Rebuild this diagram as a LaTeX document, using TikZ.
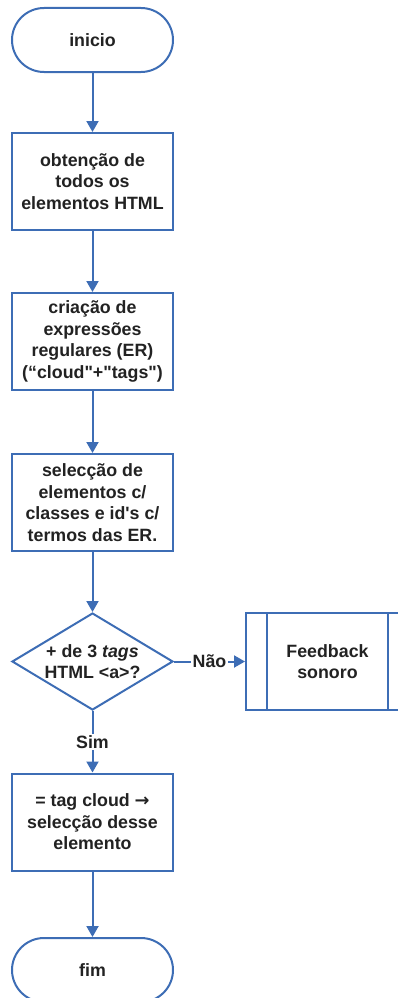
\documentclass[tikz,border=0pt]{standalone}
\usepackage{fontspec}
\setmainfont{Liberation Sans}[Ligatures=TeXOff]
\newfontfamily\arrowfont{DejaVu Sans}
\usetikzlibrary{shapes.misc,shapes.geometric,arrows.meta}
\definecolor{flowblue}{HTML}{3D6DB5}
\definecolor{flowtext}{HTML}{222222}
\tikzset{
  labelfont/.style={font=\bfseries\fontsize{17.8}{21.5}\selectfont},
  base/.style={draw=flowblue, line width=2pt, fill=white, text=flowtext,
    labelfont, align=center, inner sep=0pt},
  terminal/.style={base, rounded rectangle, minimum width=161pt, minimum height=64pt},
  process/.style={base, rectangle, minimum width=161pt, minimum height=97pt},
  decision/.style={base, diamond, minimum width=161pt, minimum height=97pt},
  predef/.style={base, rectangle, minimum width=163pt, minimum height=97pt},
  flow/.style={draw=flowblue, line width=2pt, -{Triangle[length=11pt,width=12pt]}},
  tag/.style={fill=white, text=flowtext, inner sep=1.5pt, labelfont}
}
\begin{document}
\begin{tikzpicture}[x=1pt,y=-1pt]
\useasboundingbox (0,0) rectangle (398,998);
\clip (0,0) rectangle (398,998);

\node[terminal] (start) at (92.5,40) {inicio};
\node[process] (b1) at (92.5,181.5) {obtenção de\\todos os\\elementos HTML};
\node[process] (b2) at (92.5,341.5) {criação de\\expressões\\regulares (ER)\\(“cloud"+"tags")};
\node[process] (b3) at (92.5,502.5) {selecção de\\elementos c/\\classes e id's c/\\termos das ER.};
\node[decision] (dec) at (92.5,661.5) {};
\node[text=flowtext, labelfont, align=center]
  (dectext) at (dec.center) {+ de 3 \textit{tags}\\HTML <a>?};
\node[predef] (fb) at (327.5,661.5) {};
\draw[flowblue, line width=2pt] (267,613) -- (267,710) (388,613) -- (388,710);
\node[text=flowtext, labelfont, align=center]
  (fbtext) at (fb.center) {Feedback\\sonoro};
\node[process] (b4) at (92.5,822) {= tag cloud {\arrowfont\bfseries →}\\selecção desse\\elemento};
\node[terminal] (stop) at (92.5,970) {fim};

\draw[flow] (start) -- (b1);
\draw[flow] (b1) -- (b2);
\draw[flow] (b2) -- (b3);
\draw[flow] (b3) -- (dec);
\draw[flow] (dec.east) -- node[tag] {Não} (fb.west);
\draw[flow] (dec.south) -- node[tag, pos=0.5] {Sim} (b4.north);
\draw[flow] (b4) -- (stop);
\end{tikzpicture}
\end{document}
